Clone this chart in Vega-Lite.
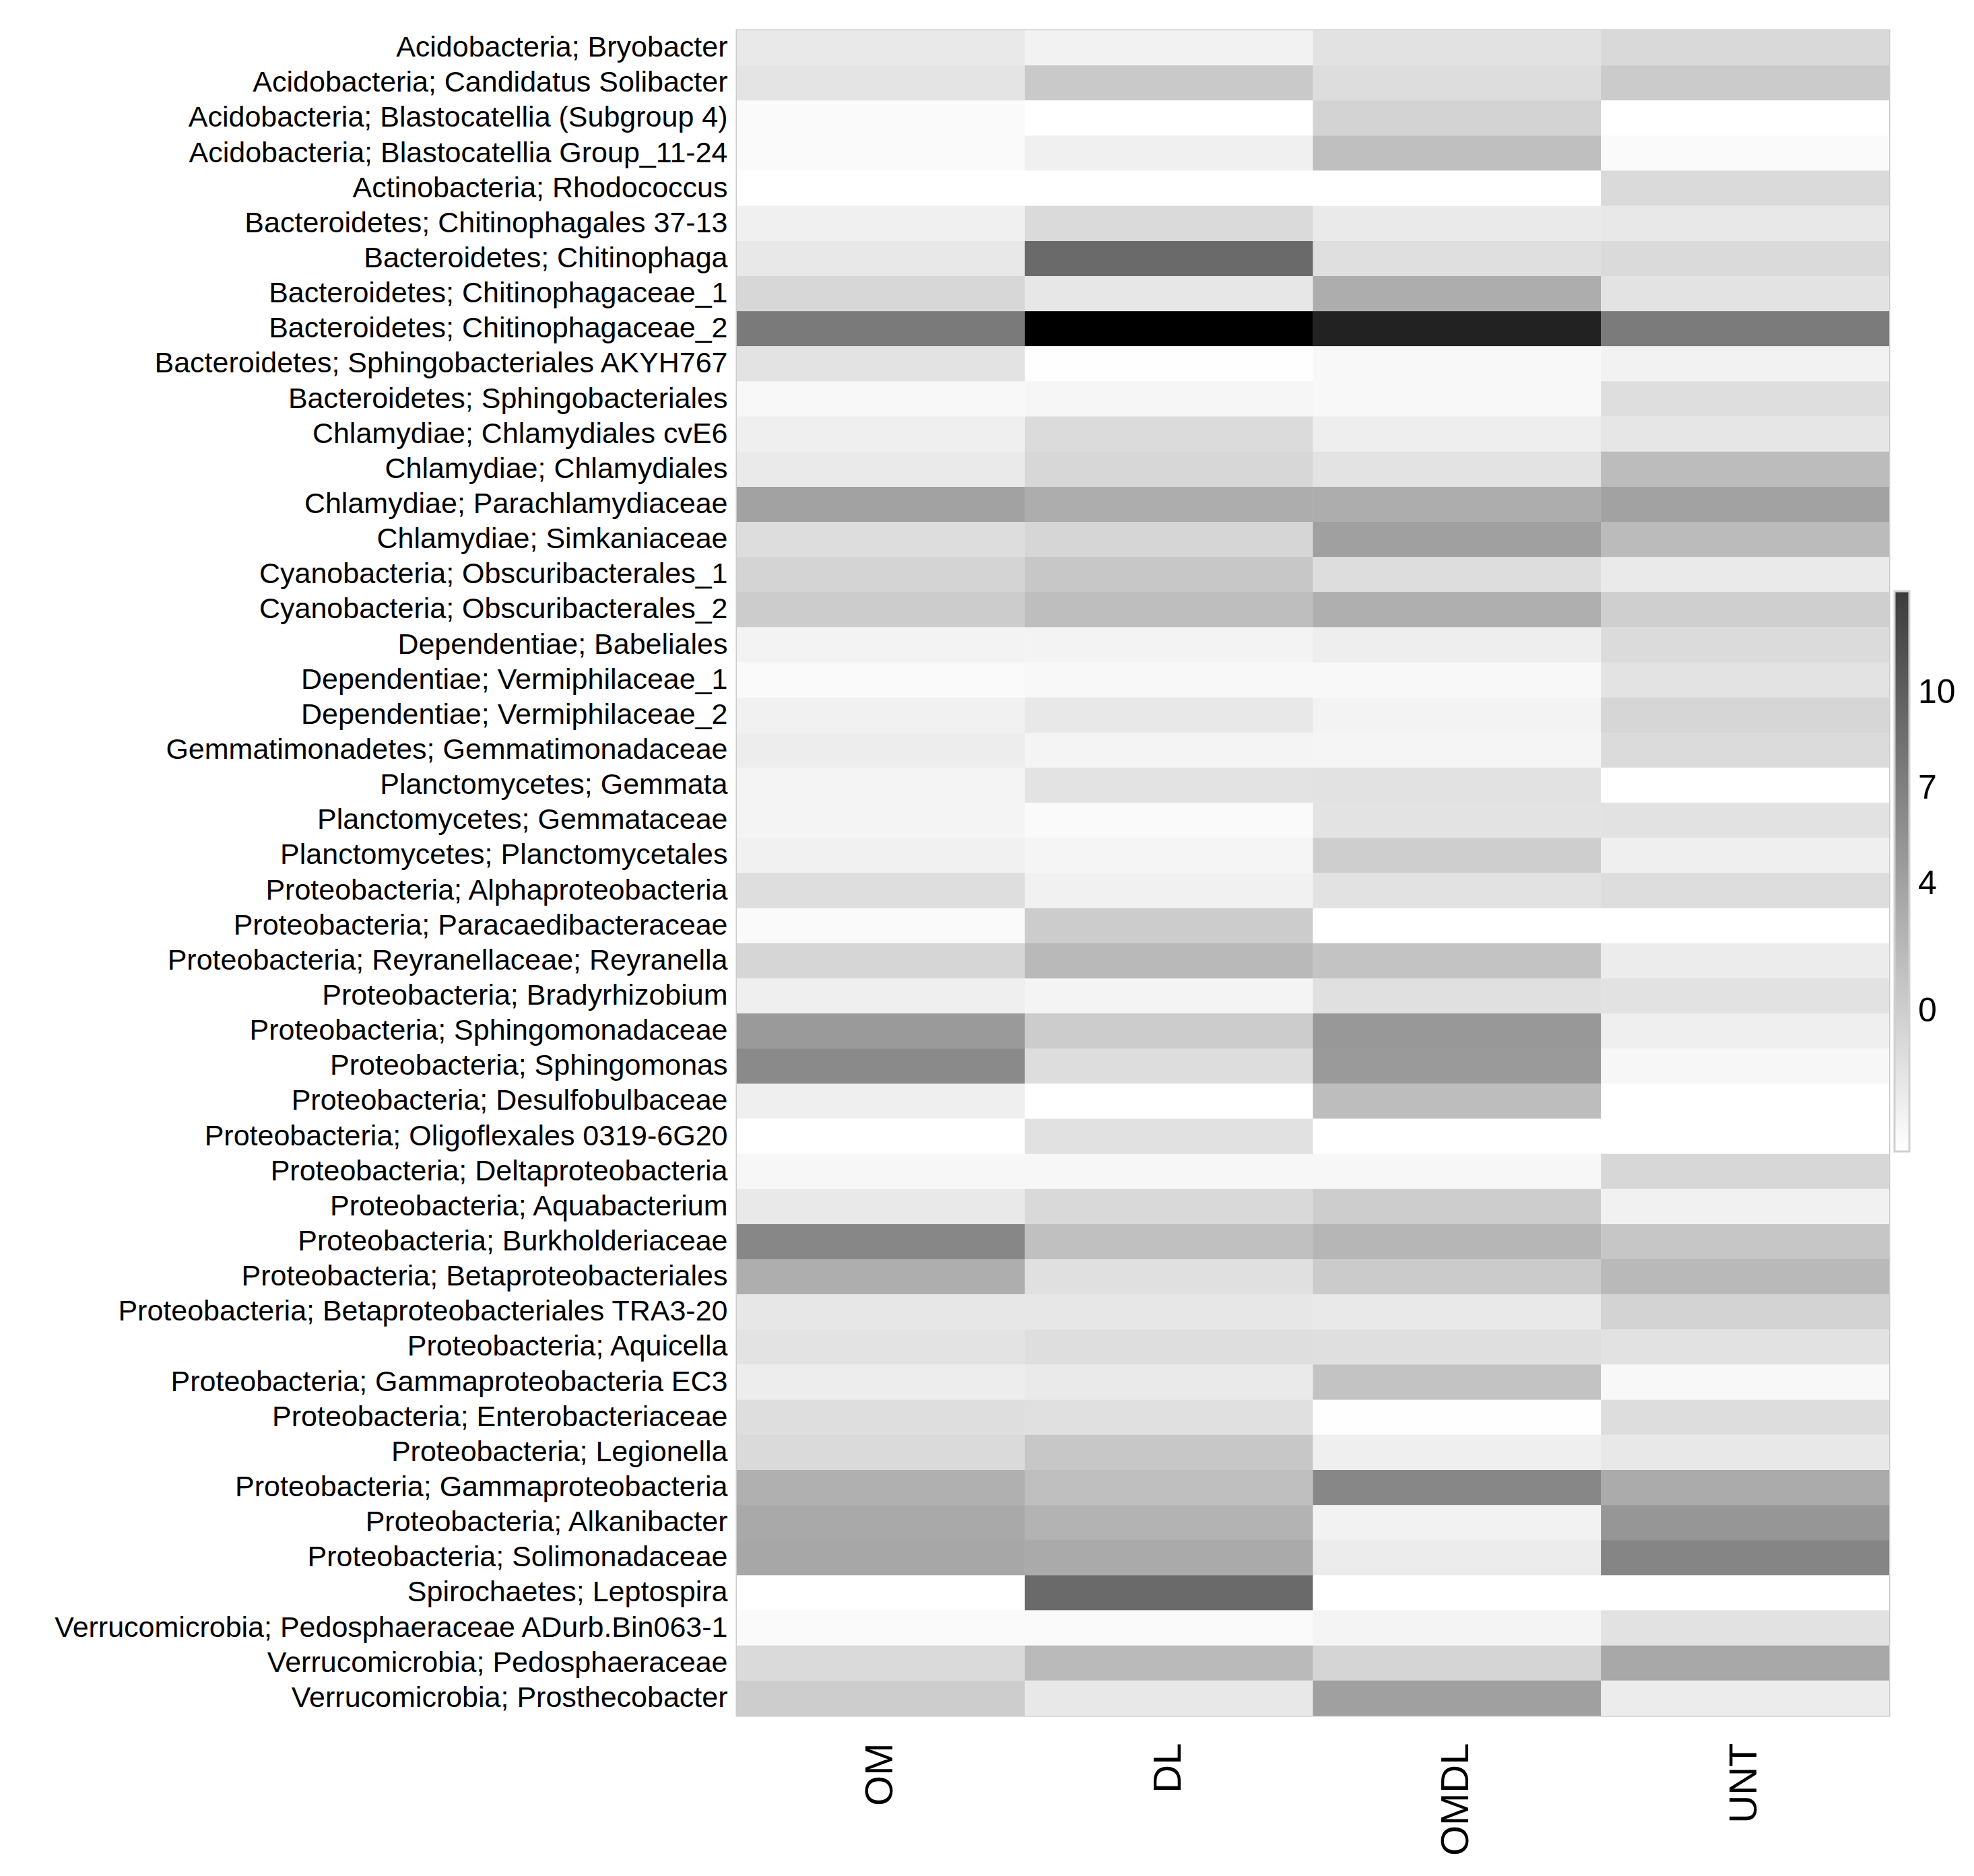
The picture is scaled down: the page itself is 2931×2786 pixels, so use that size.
{
  "$schema": "https://vega.github.io/schema/vega-lite/v6.json",
  "autosize": "none",
  "width": 1711,
  "height": 2503,
  "padding": {"left": 1094, "top": 45, "right": 126, "bottom": 238},
  "background": "white",
  "data": {"values": [
    {"taxon": "Acidobacteria; Bryobacter", "group": "OM", "value": -2.42},
    {"taxon": "Acidobacteria; Bryobacter", "group": "DL", "value": -3.23},
    {"taxon": "Acidobacteria; Bryobacter", "group": "OMDL", "value": -1.78},
    {"taxon": "Acidobacteria; Bryobacter", "group": "UNT", "value": -0.97},
    {"taxon": "Acidobacteria; Candidatus Solibacter", "group": "OM", "value": -1.96},
    {"taxon": "Acidobacteria; Candidatus Solibacter", "group": "DL", "value": 0.47},
    {"taxon": "Acidobacteria; Candidatus Solibacter", "group": "OMDL", "value": -1.33},
    {"taxon": "Acidobacteria; Candidatus Solibacter", "group": "UNT", "value": 0.29},
    {"taxon": "Acidobacteria; Blastocatellia (Subgroup 4)", "group": "OM", "value": -3.95},
    {"taxon": "Acidobacteria; Blastocatellia (Subgroup 4)", "group": "DL", "value": -4.4},
    {"taxon": "Acidobacteria; Blastocatellia (Subgroup 4)", "group": "OMDL", "value": -0.43},
    {"taxon": "Acidobacteria; Blastocatellia (Subgroup 4)", "group": "UNT", "value": -4.4},
    {"taxon": "Acidobacteria; Blastocatellia Group_11-24", "group": "OM", "value": -3.95},
    {"taxon": "Acidobacteria; Blastocatellia Group_11-24", "group": "DL", "value": -3.05},
    {"taxon": "Acidobacteria; Blastocatellia Group_11-24", "group": "OMDL", "value": 1.37},
    {"taxon": "Acidobacteria; Blastocatellia Group_11-24", "group": "UNT", "value": -3.95},
    {"taxon": "Actinobacteria; Rhodococcus", "group": "OM", "value": -4.4},
    {"taxon": "Actinobacteria; Rhodococcus", "group": "DL", "value": -4.4},
    {"taxon": "Actinobacteria; Rhodococcus", "group": "OMDL", "value": -4.4},
    {"taxon": "Actinobacteria; Rhodococcus", "group": "UNT", "value": -1.06},
    {"taxon": "Bacteroidetes; Chitinophagales 37-13", "group": "OM", "value": -3.05},
    {"taxon": "Bacteroidetes; Chitinophagales 37-13", "group": "DL", "value": -1.06},
    {"taxon": "Bacteroidetes; Chitinophagales 37-13", "group": "OMDL", "value": -2.51},
    {"taxon": "Bacteroidetes; Chitinophagales 37-13", "group": "UNT", "value": -2.33},
    {"taxon": "Bacteroidetes; Chitinophaga", "group": "OM", "value": -2.33},
    {"taxon": "Bacteroidetes; Chitinophaga", "group": "DL", "value": 9.04},
    {"taxon": "Bacteroidetes; Chitinophaga", "group": "OMDL", "value": -1.51},
    {"taxon": "Bacteroidetes; Chitinophaga", "group": "UNT", "value": -1.06},
    {"taxon": "Bacteroidetes; Chitinophagaceae_1", "group": "OM", "value": -0.79},
    {"taxon": "Bacteroidetes; Chitinophagaceae_1", "group": "DL", "value": -2.24},
    {"taxon": "Bacteroidetes; Chitinophagaceae_1", "group": "OMDL", "value": 3.0},
    {"taxon": "Bacteroidetes; Chitinophagaceae_1", "group": "UNT", "value": -1.87},
    {"taxon": "Bacteroidetes; Chitinophagaceae_2", "group": "OM", "value": 7.6},
    {"taxon": "Bacteroidetes; Chitinophagaceae_2", "group": "DL", "value": 18.6},
    {"taxon": "Bacteroidetes; Chitinophagaceae_2", "group": "OMDL", "value": 15.53},
    {"taxon": "Bacteroidetes; Chitinophagaceae_2", "group": "UNT", "value": 7.51},
    {"taxon": "Bacteroidetes; Sphingobacteriales AKYH767", "group": "OM", "value": -1.87},
    {"taxon": "Bacteroidetes; Sphingobacteriales AKYH767", "group": "DL", "value": -4.31},
    {"taxon": "Bacteroidetes; Sphingobacteriales AKYH767", "group": "OMDL", "value": -3.77},
    {"taxon": "Bacteroidetes; Sphingobacteriales AKYH767", "group": "UNT", "value": -3.23},
    {"taxon": "Bacteroidetes; Sphingobacteriales", "group": "OM", "value": -3.77},
    {"taxon": "Bacteroidetes; Sphingobacteriales", "group": "DL", "value": -3.59},
    {"taxon": "Bacteroidetes; Sphingobacteriales", "group": "OMDL", "value": -3.77},
    {"taxon": "Bacteroidetes; Sphingobacteriales", "group": "UNT", "value": -1.42},
    {"taxon": "Chlamydiae; Chlamydiales cvE6", "group": "OM", "value": -2.96},
    {"taxon": "Chlamydiae; Chlamydiales cvE6", "group": "DL", "value": -1.15},
    {"taxon": "Chlamydiae; Chlamydiales cvE6", "group": "OMDL", "value": -2.87},
    {"taxon": "Chlamydiae; Chlamydiales cvE6", "group": "UNT", "value": -2.15},
    {"taxon": "Chlamydiae; Chlamydiales", "group": "OM", "value": -2.51},
    {"taxon": "Chlamydiae; Chlamydiales", "group": "DL", "value": -0.79},
    {"taxon": "Chlamydiae; Chlamydiales", "group": "OMDL", "value": -1.87},
    {"taxon": "Chlamydiae; Chlamydiales", "group": "UNT", "value": 1.64},
    {"taxon": "Chlamydiae; Parachlamydiaceae", "group": "OM", "value": 3.99},
    {"taxon": "Chlamydiae; Parachlamydiaceae", "group": "DL", "value": 3.0},
    {"taxon": "Chlamydiae; Parachlamydiaceae", "group": "OMDL", "value": 3.0},
    {"taxon": "Chlamydiae; Parachlamydiaceae", "group": "UNT", "value": 3.99},
    {"taxon": "Chlamydiae; Simkaniaceae", "group": "OM", "value": -1.33},
    {"taxon": "Chlamydiae; Simkaniaceae", "group": "DL", "value": -0.7},
    {"taxon": "Chlamydiae; Simkaniaceae", "group": "OMDL", "value": 4.17},
    {"taxon": "Chlamydiae; Simkaniaceae", "group": "UNT", "value": 1.73},
    {"taxon": "Cyanobacteria; Obscuribacterales_1", "group": "OM", "value": -0.52},
    {"taxon": "Cyanobacteria; Obscuribacterales_1", "group": "DL", "value": 0.65},
    {"taxon": "Cyanobacteria; Obscuribacterales_1", "group": "OMDL", "value": -1.33},
    {"taxon": "Cyanobacteria; Obscuribacterales_1", "group": "UNT", "value": -2.51},
    {"taxon": "Cyanobacteria; Obscuribacterales_2", "group": "OM", "value": 0.2},
    {"taxon": "Cyanobacteria; Obscuribacterales_2", "group": "DL", "value": 1.46},
    {"taxon": "Cyanobacteria; Obscuribacterales_2", "group": "OMDL", "value": 2.82},
    {"taxon": "Cyanobacteria; Obscuribacterales_2", "group": "UNT", "value": -0.07},
    {"taxon": "Dependentiae; Babeliales", "group": "OM", "value": -3.32},
    {"taxon": "Dependentiae; Babeliales", "group": "DL", "value": -3.32},
    {"taxon": "Dependentiae; Babeliales", "group": "OMDL", "value": -2.87},
    {"taxon": "Dependentiae; Babeliales", "group": "UNT", "value": -1.15},
    {"taxon": "Dependentiae; Vermiphilaceae_1", "group": "OM", "value": -3.95},
    {"taxon": "Dependentiae; Vermiphilaceae_1", "group": "DL", "value": -3.77},
    {"taxon": "Dependentiae; Vermiphilaceae_1", "group": "OMDL", "value": -3.77},
    {"taxon": "Dependentiae; Vermiphilaceae_1", "group": "UNT", "value": -1.87},
    {"taxon": "Dependentiae; Vermiphilaceae_2", "group": "OM", "value": -3.14},
    {"taxon": "Dependentiae; Vermiphilaceae_2", "group": "DL", "value": -2.33},
    {"taxon": "Dependentiae; Vermiphilaceae_2", "group": "OMDL", "value": -3.32},
    {"taxon": "Dependentiae; Vermiphilaceae_2", "group": "UNT", "value": -0.7},
    {"taxon": "Gemmatimonadetes; Gemmatimonadaceae", "group": "OM", "value": -2.78},
    {"taxon": "Gemmatimonadetes; Gemmatimonadaceae", "group": "DL", "value": -3.41},
    {"taxon": "Gemmatimonadetes; Gemmatimonadaceae", "group": "OMDL", "value": -3.5},
    {"taxon": "Gemmatimonadetes; Gemmatimonadaceae", "group": "UNT", "value": -1.15},
    {"taxon": "Planctomycetes; Gemmata", "group": "OM", "value": -3.41},
    {"taxon": "Planctomycetes; Gemmata", "group": "DL", "value": -1.87},
    {"taxon": "Planctomycetes; Gemmata", "group": "OMDL", "value": -1.78},
    {"taxon": "Planctomycetes; Gemmata", "group": "UNT", "value": -4.4},
    {"taxon": "Planctomycetes; Gemmataceae", "group": "OM", "value": -3.41},
    {"taxon": "Planctomycetes; Gemmataceae", "group": "DL", "value": -3.95},
    {"taxon": "Planctomycetes; Gemmataceae", "group": "OMDL", "value": -1.87},
    {"taxon": "Planctomycetes; Gemmataceae", "group": "UNT", "value": -1.78},
    {"taxon": "Planctomycetes; Planctomycetales", "group": "OM", "value": -3.14},
    {"taxon": "Planctomycetes; Planctomycetales", "group": "DL", "value": -3.5},
    {"taxon": "Planctomycetes; Planctomycetales", "group": "OMDL", "value": 0.02},
    {"taxon": "Planctomycetes; Planctomycetales", "group": "UNT", "value": -2.96},
    {"taxon": "Proteobacteria; Alphaproteobacteria", "group": "OM", "value": -1.42},
    {"taxon": "Proteobacteria; Alphaproteobacteria", "group": "DL", "value": -3.14},
    {"taxon": "Proteobacteria; Alphaproteobacteria", "group": "OMDL", "value": -1.78},
    {"taxon": "Proteobacteria; Alphaproteobacteria", "group": "UNT", "value": -1.33},
    {"taxon": "Proteobacteria; Paracaedibacteraceae", "group": "OM", "value": -3.95},
    {"taxon": "Proteobacteria; Paracaedibacteraceae", "group": "DL", "value": 0.2},
    {"taxon": "Proteobacteria; Paracaedibacteraceae", "group": "OMDL", "value": -4.4},
    {"taxon": "Proteobacteria; Paracaedibacteraceae", "group": "UNT", "value": -4.4},
    {"taxon": "Proteobacteria; Reyranellaceae; Reyranella", "group": "OM", "value": -0.7},
    {"taxon": "Proteobacteria; Reyranellaceae; Reyranella", "group": "DL", "value": 1.91},
    {"taxon": "Proteobacteria; Reyranellaceae; Reyranella", "group": "OMDL", "value": 1.01},
    {"taxon": "Proteobacteria; Reyranellaceae; Reyranella", "group": "UNT", "value": -2.69},
    {"taxon": "Proteobacteria; Bradyrhizobium", "group": "OM", "value": -2.96},
    {"taxon": "Proteobacteria; Bradyrhizobium", "group": "DL", "value": -3.41},
    {"taxon": "Proteobacteria; Bradyrhizobium", "group": "OMDL", "value": -1.6},
    {"taxon": "Proteobacteria; Bradyrhizobium", "group": "UNT", "value": -1.78},
    {"taxon": "Proteobacteria; Sphingomonadaceae", "group": "OM", "value": 4.71},
    {"taxon": "Proteobacteria; Sphingomonadaceae", "group": "DL", "value": 0.2},
    {"taxon": "Proteobacteria; Sphingomonadaceae", "group": "OMDL", "value": 4.89},
    {"taxon": "Proteobacteria; Sphingomonadaceae", "group": "UNT", "value": -2.96},
    {"taxon": "Proteobacteria; Sphingomonas", "group": "OM", "value": 6.15},
    {"taxon": "Proteobacteria; Sphingomonas", "group": "DL", "value": -1.33},
    {"taxon": "Proteobacteria; Sphingomonas", "group": "OMDL", "value": 4.71},
    {"taxon": "Proteobacteria; Sphingomonas", "group": "UNT", "value": -3.68},
    {"taxon": "Proteobacteria; Desulfobulbaceae", "group": "OM", "value": -2.96},
    {"taxon": "Proteobacteria; Desulfobulbaceae", "group": "DL", "value": -4.4},
    {"taxon": "Proteobacteria; Desulfobulbaceae", "group": "OMDL", "value": 1.55},
    {"taxon": "Proteobacteria; Desulfobulbaceae", "group": "UNT", "value": -4.4},
    {"taxon": "Proteobacteria; Oligoflexales 0319-6G20", "group": "OM", "value": -4.4},
    {"taxon": "Proteobacteria; Oligoflexales 0319-6G20", "group": "DL", "value": -1.69},
    {"taxon": "Proteobacteria; Oligoflexales 0319-6G20", "group": "OMDL", "value": -4.4},
    {"taxon": "Proteobacteria; Oligoflexales 0319-6G20", "group": "UNT", "value": -4.4},
    {"taxon": "Proteobacteria; Deltaproteobacteria", "group": "OM", "value": -3.68},
    {"taxon": "Proteobacteria; Deltaproteobacteria", "group": "DL", "value": -3.68},
    {"taxon": "Proteobacteria; Deltaproteobacteria", "group": "OMDL", "value": -3.68},
    {"taxon": "Proteobacteria; Deltaproteobacteria", "group": "UNT", "value": -0.79},
    {"taxon": "Proteobacteria; Aquabacterium", "group": "OM", "value": -2.42},
    {"taxon": "Proteobacteria; Aquabacterium", "group": "DL", "value": -0.97},
    {"taxon": "Proteobacteria; Aquabacterium", "group": "OMDL", "value": 0.11},
    {"taxon": "Proteobacteria; Aquabacterium", "group": "UNT", "value": -3.14},
    {"taxon": "Proteobacteria; Burkholderiaceae", "group": "OM", "value": 6.42},
    {"taxon": "Proteobacteria; Burkholderiaceae", "group": "DL", "value": 1.28},
    {"taxon": "Proteobacteria; Burkholderiaceae", "group": "OMDL", "value": 2.18},
    {"taxon": "Proteobacteria; Burkholderiaceae", "group": "UNT", "value": 0.74},
    {"taxon": "Proteobacteria; Betaproteobacteriales", "group": "OM", "value": 2.91},
    {"taxon": "Proteobacteria; Betaproteobacteriales", "group": "DL", "value": -1.6},
    {"taxon": "Proteobacteria; Betaproteobacteriales", "group": "OMDL", "value": 0.29},
    {"taxon": "Proteobacteria; Betaproteobacteriales", "group": "UNT", "value": 1.91},
    {"taxon": "Proteobacteria; Betaproteobacteriales TRA3-20", "group": "OM", "value": -2.24},
    {"taxon": "Proteobacteria; Betaproteobacteriales TRA3-20", "group": "DL", "value": -2.24},
    {"taxon": "Proteobacteria; Betaproteobacteriales TRA3-20", "group": "OMDL", "value": -2.42},
    {"taxon": "Proteobacteria; Betaproteobacteriales TRA3-20", "group": "UNT", "value": -0.43},
    {"taxon": "Proteobacteria; Aquicella", "group": "OM", "value": -1.87},
    {"taxon": "Proteobacteria; Aquicella", "group": "DL", "value": -1.42},
    {"taxon": "Proteobacteria; Aquicella", "group": "OMDL", "value": -1.51},
    {"taxon": "Proteobacteria; Aquicella", "group": "UNT", "value": -1.78},
    {"taxon": "Proteobacteria; Gammaproteobacteria EC3", "group": "OM", "value": -2.78},
    {"taxon": "Proteobacteria; Gammaproteobacteria EC3", "group": "DL", "value": -2.51},
    {"taxon": "Proteobacteria; Gammaproteobacteria EC3", "group": "OMDL", "value": 1.01},
    {"taxon": "Proteobacteria; Gammaproteobacteria EC3", "group": "UNT", "value": -3.77},
    {"taxon": "Proteobacteria; Enterobacteriaceae", "group": "OM", "value": -1.42},
    {"taxon": "Proteobacteria; Enterobacteriaceae", "group": "DL", "value": -1.6},
    {"taxon": "Proteobacteria; Enterobacteriaceae", "group": "OMDL", "value": -4.31},
    {"taxon": "Proteobacteria; Enterobacteriaceae", "group": "UNT", "value": -1.33},
    {"taxon": "Proteobacteria; Legionella", "group": "OM", "value": -1.06},
    {"taxon": "Proteobacteria; Legionella", "group": "DL", "value": 0.65},
    {"taxon": "Proteobacteria; Legionella", "group": "OMDL", "value": -2.96},
    {"taxon": "Proteobacteria; Legionella", "group": "UNT", "value": -2.33},
    {"taxon": "Proteobacteria; Gammaproteobacteria", "group": "OM", "value": 2.73},
    {"taxon": "Proteobacteria; Gammaproteobacteria", "group": "DL", "value": 1.37},
    {"taxon": "Proteobacteria; Gammaproteobacteria", "group": "OMDL", "value": 6.42},
    {"taxon": "Proteobacteria; Gammaproteobacteria", "group": "UNT", "value": 3.18},
    {"taxon": "Proteobacteria; Alkanibacter", "group": "OM", "value": 3.36},
    {"taxon": "Proteobacteria; Alkanibacter", "group": "DL", "value": 2.45},
    {"taxon": "Proteobacteria; Alkanibacter", "group": "OMDL", "value": -3.23},
    {"taxon": "Proteobacteria; Alkanibacter", "group": "UNT", "value": 5.07},
    {"taxon": "Proteobacteria; Solimonadaceae", "group": "OM", "value": 3.54},
    {"taxon": "Proteobacteria; Solimonadaceae", "group": "DL", "value": 3.27},
    {"taxon": "Proteobacteria; Solimonadaceae", "group": "OMDL", "value": -2.69},
    {"taxon": "Proteobacteria; Solimonadaceae", "group": "UNT", "value": 6.6},
    {"taxon": "Spirochaetes; Leptospira", "group": "OM", "value": -4.4},
    {"taxon": "Spirochaetes; Leptospira", "group": "DL", "value": 9.04},
    {"taxon": "Spirochaetes; Leptospira", "group": "OMDL", "value": -4.4},
    {"taxon": "Spirochaetes; Leptospira", "group": "UNT", "value": -4.4},
    {"taxon": "Verrucomicrobia; Pedosphaeraceae ADurb.Bin063-1", "group": "OM", "value": -3.95},
    {"taxon": "Verrucomicrobia; Pedosphaeraceae ADurb.Bin063-1", "group": "DL", "value": -3.95},
    {"taxon": "Verrucomicrobia; Pedosphaeraceae ADurb.Bin063-1", "group": "OMDL", "value": -3.41},
    {"taxon": "Verrucomicrobia; Pedosphaeraceae ADurb.Bin063-1", "group": "UNT", "value": -1.78},
    {"taxon": "Verrucomicrobia; Pedosphaeraceae", "group": "OM", "value": -1.06},
    {"taxon": "Verrucomicrobia; Pedosphaeraceae", "group": "DL", "value": 1.82},
    {"taxon": "Verrucomicrobia; Pedosphaeraceae", "group": "OMDL", "value": -0.61},
    {"taxon": "Verrucomicrobia; Pedosphaeraceae", "group": "UNT", "value": 3.45},
    {"taxon": "Verrucomicrobia; Prosthecobacter", "group": "OM", "value": 0.11},
    {"taxon": "Verrucomicrobia; Prosthecobacter", "group": "DL", "value": -2.33},
    {"taxon": "Verrucomicrobia; Prosthecobacter", "group": "OMDL", "value": 4.17},
    {"taxon": "Verrucomicrobia; Prosthecobacter", "group": "UNT", "value": -2.69}
  ]},
  "encoding": {
    "x": {
      "field": "group", "type": "nominal", "sort": ["OM", "DL", "OMDL", "UNT"], "title": null,
      "axis": {"labelAngle": 270, "labelFontSize": 58, "labelFont": "Liberation Sans", "labelColor": "#000000", "ticks": false, "domain": false, "grid": false, "labelPadding": 40}
    },
    "y": {
      "field": "taxon", "type": "nominal", "sort": null, "title": null,
      "axis": {"labelFontSize": 43, "labelFont": "Liberation Sans", "labelColor": "#000000", "ticks": false, "domain": false, "grid": false, "labelPadding": 14, "labelLimit": 1300}
    }
  },
  "layer": [
    {
      "mark": {"type": "rect"},
      "encoding": {
        "color": {
          "field": "value", "type": "quantitative",
          "scale": {"domain": [-4.4, 13.2], "range": ["#ffffff", "#3c3c3c"], "interpolate": "rgb", "nice": false, "zero": false, "clamp": true},
          "legend": {
            "title": null, "orient": "none", "legendX": 1719, "legendY": 833, "direction": "vertical",
            "gradientLength": 832, "gradientThickness": 22, "values": [10, 7, 4, 0],
            "labelFontSize": 50, "labelFont": "Liberation Sans", "labelColor": "#000000",
            "labelAlign": "left", "labelOffset": 13,
            "gradientStrokeColor": "#d0d0d0", "gradientStrokeWidth": 3, "padding": 0
          }
        }
      }
    },
    {
      "mark": {"type": "rect"},
      "encoding": {
        "color": {
          "field": "value", "type": "quantitative",
          "scale": {"domain": [-4.4, 18.6], "range": ["#ffffff", "#000000"], "interpolate": "rgb", "nice": false, "zero": false},
          "legend": null
        }
      }
    }
  ],
  "resolve": {"scale": {"color": "independent"}},
  "config": {
    "view": {"stroke": "#cccccc", "strokeWidth": 3}
  }
}
